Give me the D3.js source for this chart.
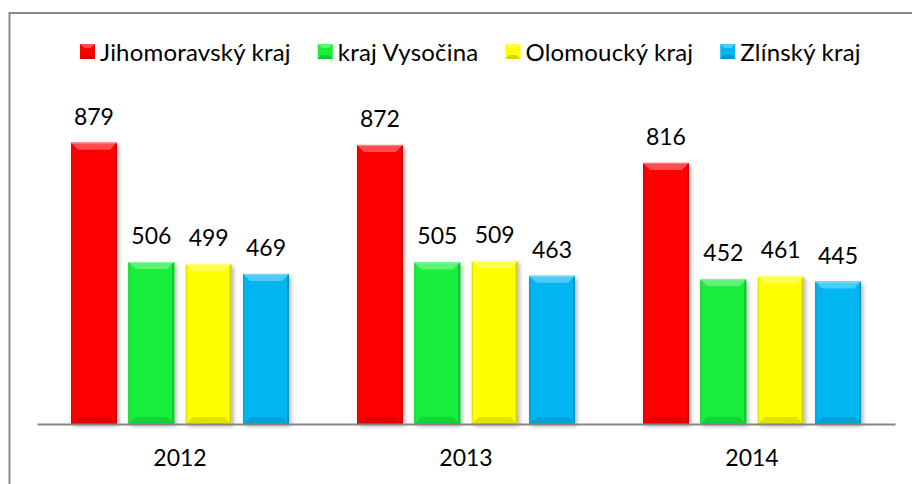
<!DOCTYPE html>
<html>
<head>
<meta charset="utf-8">
<script src="https://cdn.jsdelivr.net/npm/d3@7"></script>
<style>
  body { margin: 0; background: #fff; }
  text { font-family: Lato, "Liberation Sans", Arial, sans-serif; font-weight: 400; fill: #000; }
</style>
</head>
<body>
<script>
// data
var years = ["2012", "2013", "2014"];
var regions = ["Jihomoravský kraj", "kraj Vysočina", "Olomoucký kraj", "Zlínský kraj"];
var jihomoravsky = [879, 872, 816];
var vysocina = [506, 505, 452];
var olomoucky = [499, 509, 461];
var zlinsky = [469, 463, 445];
var colors = ["#ff0000", "#17ee3a", "#ffff00", "#02b6f0"];

var series = [jihomoravsky, vysocina, olomoucky, zlinsky];

var w = 912, h = 484;
var left = 37, right = 895, baseY = 424;

var svg = d3.select("body").append("svg")
    .attr("width", w)
    .attr("height", h);

var defs = svg.append("defs");
var shadow = defs.append("filter").attr("id", "shadow")
    .attr("x", "-20%").attr("y", "-20%").attr("width", "150%").attr("height", "150%");
shadow.append("feDropShadow")
    .attr("dx", 2).attr("dy", 2).attr("stdDeviation", 2)
    .attr("flood-color", "#000").attr("flood-opacity", 0.3);

// frame (runs past the right and bottom edge)
svg.append("path")
    .attr("d", "M9.5," + h + "V13H" + w)
    .attr("fill", "none")
    .attr("stroke", "#8a8a8a")
    .attr("stroke-width", 2);

var x0 = d3.scaleBand().domain(years).range([left, right]).paddingInner(0).paddingOuter(0);
var x1 = d3.scaleBand().domain(d3.range(regions.length))
    .range([34, x0.bandwidth() - 34]).paddingInner(0.2).paddingOuter(0);
var y = d3.scaleLinear().domain([0, 1000]).range([baseY, baseY - 320]);

var bars = [];
years.forEach(function(yr, i) {
    series.forEach(function(s, j) {
        bars.push({year: yr, idx: j, value: s[i]});
    });
});

function bevelBar(g, x, top, bw, bh, color) {
    var c = d3.color(color);
    g.append("rect")
        .attr("x", x).attr("y", top)
        .attr("width", bw).attr("height", bh)
        .attr("fill", color)
        .attr("filter", "url(#shadow)");
    var d = 7;
    // top bevel
    g.append("path")
        .attr("d", "M" + x + "," + top + "L" + (x + bw) + "," + top + "L" + (x + bw - d) + "," + (top + d) + "L" + (x + d) + "," + (top + d) + "Z")
        .attr("fill", d3.interpolateRgb(color, "#fff")(0.3));
    g.append("line")
        .attr("x1", x).attr("x2", x + bw)
        .attr("y1", top + 0.5).attr("y2", top + 0.5)
        .attr("stroke", d3.interpolateRgb(color, "#fff")(0.5));
    // sides
    g.append("path")
        .attr("d", "M" + (x + bw) + "," + top + "L" + (x + bw) + "," + (top + bh) + "L" + (x + bw - 2) + "," + (top + bh - 2) + "L" + (x + bw - 2) + "," + (top + 2) + "Z")
        .attr("fill", c.darker(0.6));
    g.append("path")
        .attr("d", "M" + x + "," + top + "L" + x + "," + (top + bh) + "L" + (x + 1.5) + "," + (top + bh - 2) + "L" + (x + 1.5) + "," + (top + 2) + "Z")
        .attr("fill", c.darker(0.3));
    // bottom bevel
    g.append("path")
        .attr("d", "M" + x + "," + (top + bh) + "L" + (x + bw) + "," + (top + bh) + "L" + (x + bw - d) + "," + (top + bh - d) + "L" + (x + d) + "," + (top + bh - d) + "Z")
        .attr("fill", c.darker(0.35));
}

var barG = svg.append("g");
bars.forEach(function(b) {
    var bx = x0(b.year) + x1(b.idx);
    var top = y(b.value);
    bevelBar(barG.append("g"), bx, top, x1.bandwidth(), baseY - top, colors[b.idx]);
});

// value labels
svg.append("g").selectAll("text")
    .data(bars)
    .enter()
    .append("text")
    .attr("x", function(d) { return x0(d.year) + x1(d.idx) + x1.bandwidth() / 2; })
    .attr("y", function(d) { return y(d.value) - 18; })
    .attr("text-anchor", "middle")
    .attr("font-size", "23px")
    .text(function(d) { return d.value; });

// x axis
var xAxis = d3.axisBottom(x0).tickSize(0).tickPadding(26);
var ax = svg.append("g")
    .attr("transform", "translate(0," + baseY + ")")
    .call(xAxis);
ax.select(".domain").attr("stroke", "#868686").attr("stroke-width", 2);
ax.selectAll("text")
    .attr("font-size", "23px")
    .attr("font-family", "Lato, 'Liberation Sans', Arial, sans-serif")
    .attr("fill", "#000");

// legend
var legend = svg.append("g");
var items = legend.selectAll("g").data(regions).enter().append("g");
items.each(function(d, i) {
    var g = d3.select(this);
    var s = 15;
    var c = d3.color(colors[i]);
    g.append("rect").attr("x", 0).attr("y", -17).attr("width", s).attr("height", s)
        .attr("fill", colors[i]);
    g.append("path")
        .attr("d", "M0,-17L" + s + ",-17L" + (s - 4) + ",-13L4,-13Z")
        .attr("fill", d3.interpolateRgb(colors[i], "#fff")(0.3));
    g.append("path")
        .attr("d", "M0,-2L" + s + ",-2L" + (s - 4) + ",-6L4,-6Z")
        .attr("fill", c.darker(0.5));
    g.append("text").attr("x", s + 5).attr("y", 0)
        .attr("font-size", "24px")
        .attr("letter-spacing", "0.2px")
        .text(d);
});
var xpos = 80;
items.each(function(d, i) {
    var g = d3.select(this);
    g.attr("transform", "translate(" + xpos + ",61)");
    xpos += 20 + g.select("text").node().getComputedTextLength() + 27;
});
</script>
</body>
</html>
